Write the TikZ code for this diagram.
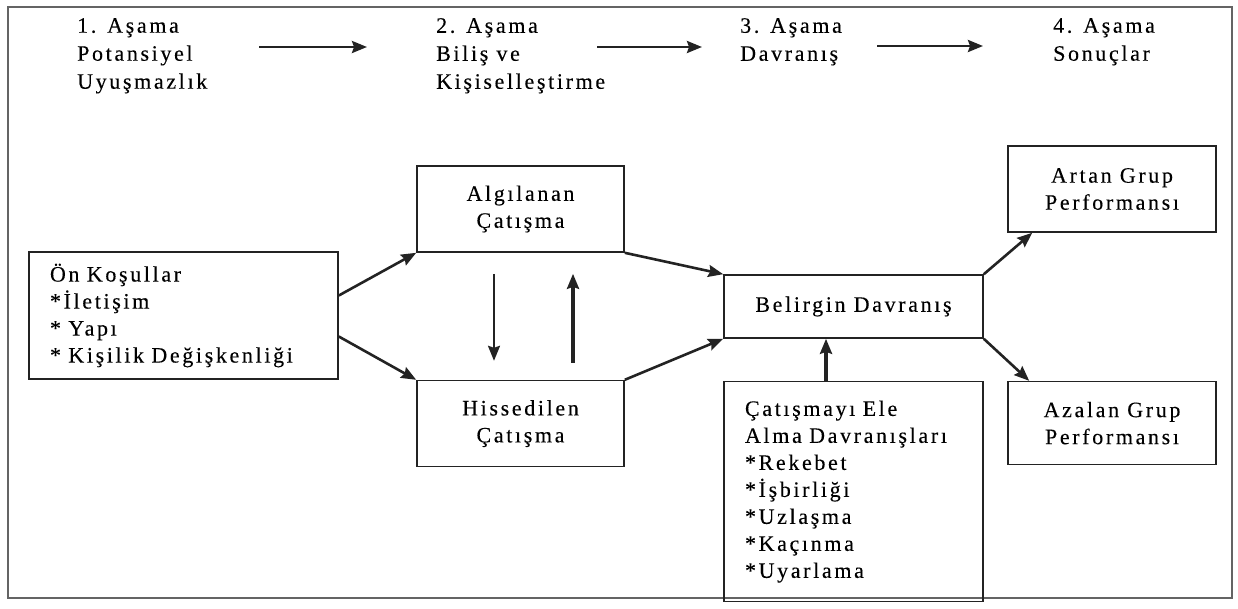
\documentclass[tikz,border=0pt]{standalone}
\usepackage{fontspec}
\setmainfont{Liberation Serif}[LetterSpace=12, FakeBold=0.2]
\usetikzlibrary{arrows.meta, positioning}
\definecolor{ink}{RGB}{35,35,35}
\definecolor{framegray}{RGB}{100,100,100}

\begin{document}
\begin{tikzpicture}[
    x=1pt, y=-1pt,
    node distance=40pt and 40pt,
    box/.style={draw=ink, line width=1.6pt, inner sep=0pt, align=center, font=\fontsize{22}{27}\selectfont},
    listbox/.style={box, align=left, inner xsep=21pt},
    stage/.style={anchor=north west, inner sep=0pt, align=left, font=\fontsize{22}{28}\selectfont},
    arr/.style={-{Stealth[length=15pt, width=12pt, inset=2pt]}, line width=2.6pt, color=ink}
  ]
  \useasboundingbox (0,0) rectangle (1238,608);
  \draw[framegray, line width=1.6pt] (8,7) rectangle (1232,598);

  % stages on top
  \node[stage] (s1) at (77,18) {1. Aşama\\Potansiyel\\Uyuşmazlık};
  \node[stage] (s2) at (436,18) {2. Aşama\\Biliş ve\\Kişiselleştirme};
  \node[stage] (s3) at (740,18) {3. Aşama\\Davranış};
  \node[stage] (s4) at (1053,18) {4. Aşama\\Sonuçlar};
  \coordinate (a1) at (259,47);  \coordinate (b1) at (367,47);
  \coordinate (a2) at (597,47);  \coordinate (b2) at (702,47);
  \coordinate (a3) at (877,46);  \coordinate (b3) at (983,46);
  \draw[arr] (a1) -- (b1);
  \draw[arr] (a2) -- (b2);
  \draw[arr] (a3) -- (b3);

  % boxes
  \node[listbox, minimum width=309pt, text width=267pt, minimum height=127pt] (onk) at (183.5,315.5)
    {Ön Koşullar\\{}*İletişim\\{}* Yapı\\{}* Kişilik Değişkenliği};
  \node[box, minimum width=207pt, minimum height=86pt] (algi) at (520.5,209) {Algılanan\\Çatışma};
  \node[box, minimum width=207pt, minimum height=86pt, below=127pt of algi] (hiss) {Hissedilen\\Çatışma};
  \node[box, minimum width=259pt, minimum height=63pt] (bel) at (853.5,306.5) {Belirgin Davranış};
  \node[listbox, minimum width=259pt, text width=217pt, minimum height=220pt, below=42pt of bel] (catis)
    {Çatışmayı Ele\\Alma Davranışları\\{}*Rekebet\\{}*İşbirliği\\{}*Uzlaşma\\{}*Kaçınma\\{}*Uyarlama};
  \node[box, minimum width=208pt, minimum height=86pt] (artan) at (1112,189) {Artan Grup\\Performansı};
  \node[box, minimum width=208pt, minimum height=83pt, below=148pt of artan] (azalan) {Azalan Grup\\Performansı};

  % connectors
  \draw[arr] ([yshift=20pt]onk.east) -- (algi.south west);
  \draw[arr] ([yshift=-21pt]onk.east) -- (hiss.north west);
  \draw[arr, line width=2.2pt] ([xshift=-26.5pt, yshift=-21pt]algi.south) -- ([xshift=-26.5pt, yshift=19pt]hiss.north);
  \draw[arr, line width=3.4pt] ([xshift=52.5pt, yshift=17pt]hiss.north) -- ([xshift=52.5pt, yshift=-21pt]algi.south);
  \draw[arr] (algi.south east) -- (bel.north west);
  \draw[arr] (hiss.north east) -- (bel.south west);
  \draw[arr, line width=3.4pt] ([xshift=-27.5pt]catis.north) -- ([xshift=-27.5pt]bel.south);
  \draw[arr] (bel.north east) -- ([xshift=25pt]artan.south west);
  \draw[arr] (bel.south east) -- ([xshift=22pt]azalan.north west);
\end{tikzpicture}
\end{document}
